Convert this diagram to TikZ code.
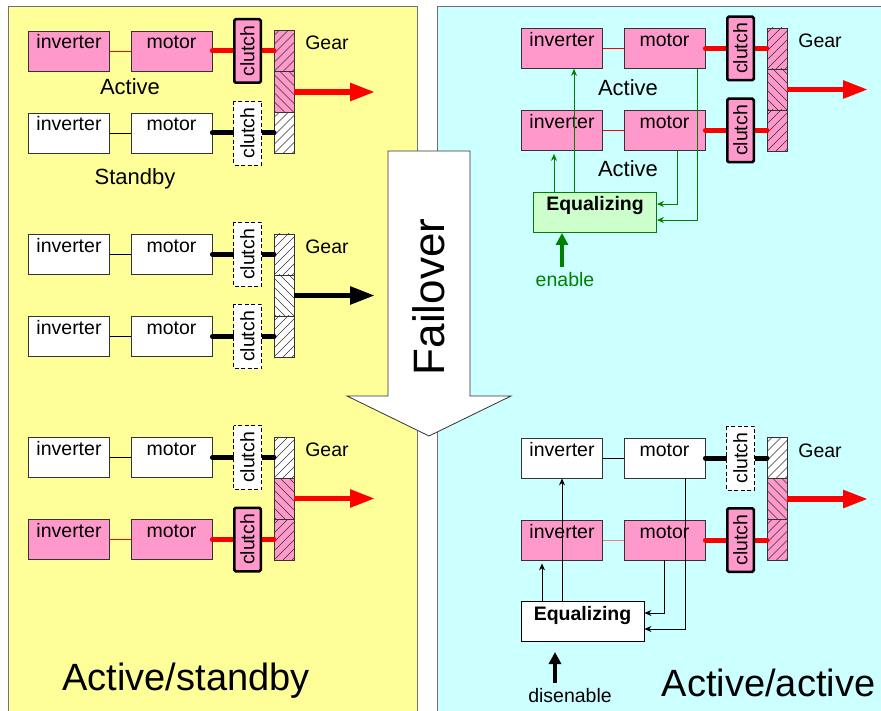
\documentclass[tikz,border=0pt]{standalone}
\usepackage{fontspec}
\setmainfont{Liberation Sans}
\usetikzlibrary{arrows.meta}
\definecolor{yel}{HTML}{FFFF99}
\definecolor{cya}{HTML}{CCFFFF}
\definecolor{pinkc}{HTML}{FF99CC}
\definecolor{lgreen}{HTML}{CCFFCC}
\definecolor{dgreen}{HTML}{008000}
\definecolor{bordc}{HTML}{333333}
\definecolor{panelc}{HTML}{707070}
\definecolor{salm}{HTML}{F08080}
\newcommand{\boxfont}{\fontsize{19.5}{22}\selectfont}
\newcommand{\lblfont}{\fontsize{22}{26}\selectfont}
\newcommand{\bigfont}{\fontsize{38}{44}\selectfont}
\tikzset{
 box/.style={draw=bordc, line width=0.8pt, minimum width=81pt, minimum height=40pt, inner sep=2pt, text height=14pt, text depth=18pt, font=\boxfont},
 fillon/.style={fill=pinkc}, filloff/.style={fill=white},
 gearseg/.style={draw=bordc, line width=0.8pt, minimum width=20pt, minimum height=41pt, inner sep=0pt, outer sep=0pt},
 gearon/.style={fill=pinkc}, gearoff/.style={fill=white},
 hatchNE/.style={path picture={\foreach \k in {-45,-36,...,20} \draw[line width=0.6pt] ([xshift=\k pt]path picture bounding box.south west) -- ++(45:65pt);}},
 hatchNW/.style={path picture={\foreach \k in {-45,-36,...,20} \draw[line width=0.6pt] ([xshift=-\k pt]path picture bounding box.south east) -- ++(135:65pt);}},
 clutchon/.style={draw=black, line width=2.5pt, rounded corners=1.5pt, fill=pinkc, rotate=90, minimum width=63.5pt, minimum height=26.5pt, inner sep=0pt, font=\boxfont},
 clutchoff/.style={draw=black, line width=0.9pt, dash pattern=on 4pt off 2.5pt, fill=white, rotate=90, minimum width=64pt, minimum height=28pt, inner sep=0pt, font=\boxfont},
 linkon/.style={draw=red, line width=0.8pt},
 linkoff/.style={draw=black, line width=0.8pt},
 shafton/.style={draw=red, line width=5pt, line cap=round},
 shaftoff/.style={draw=black, line width=5pt, line cap=round},
 outarrowon/.style={draw=red, line width=5.5pt, -{Triangle[length=25pt,width=17pt]}},
 outarrowoff/.style={draw=black, line width=5.5pt, -{Triangle[length=25pt,width=17pt]}},
 lbl/.style={font=\lblfont, inner sep=0pt, anchor=base},
 gearlbl/.style={font=\boxfont, inner sep=0pt, anchor=base},
 eqbox/.style={line width=0.9pt, minimum width=123pt, minimum height=40pt, inner sep=2pt, text height=14pt, text depth=17pt, font=\boxfont\bfseries},
 garrow/.style={draw=dgreen, line width=0.9pt, -{Stealth[length=7pt,width=6pt]}},
 barrow/.style={draw=black, line width=0.9pt, -{Stealth[length=7pt,width=6pt]}},
 gthick/.style={draw=dgreen, line width=4pt, -{Triangle[length=12pt,width=12pt]}},
 bthick/.style={draw=black, line width=4pt, -{Triangle[length=12pt,width=12pt]}},
}
% #1 prefix, #2 x offset, #3 row-1 y, #4 state row 1, #5 state row 2, #6 state middle gear
\newcommand{\driveblock}[6]{
 \node[box, fill#4] (#1i1) at ({#2+69},{#3}) {inverter};
 \node[box, fill#4] (#1m1) at ({#2+171.5},{#3}) {motor};
 \node[box, fill#5] (#1i2) at ({#2+69},{#3+82}) {inverter};
 \node[box, fill#5] (#1m2) at ({#2+171.5},{#3+82}) {motor};
 \node[gearseg, gear#4, hatchNE] (#1g1) at ({#2+284},{#3}) {};
 \node[gearseg, gear#6, hatchNW] (#1g2) at ({#2+284},{#3+41}) {};
 \node[gearseg, gear#5, hatchNE] (#1g3) at ({#2+284},{#3+82}) {};
 \draw[link#4] (#1i1) -- (#1m1);
 \draw[link#5] (#1i2) -- (#1m2);
 \draw[shaft#4] (#1m1.east) -- (#1g1.west);
 \draw[shaft#5] (#1m2.east) -- (#1g3.west);
 \node[clutch#4] (#1c1) at ({#2+247.5},{#3}) {clutch};
 \node[clutch#5] (#1c2) at ({#2+247.5},{#3+82}) {clutch};
 \node[gearlbl] (#1gl) at ({#2+327},{#3-1}) {Gear};
 \coordinate (#1out) at ({#2+375},{#3+41});
 \draw[outarrow#6] (#1g2.east) -- (#1out);
}
\begin{document}
\begin{tikzpicture}[x=1pt,y=-1pt]
\useasboundingbox (0,0) rectangle (881,711);
\fill[white] (0,0) rectangle (881,711);
% panels
\filldraw[fill=yel, draw=panelc, line width=1pt] (8,7) rectangle (417,720);
\filldraw[fill=cya, draw=panelc, line width=1pt] (437,7) rectangle (890,720);
% failover arrow
\filldraw[fill=white, draw=bordc, line width=0.8pt] (388,151) -- (470,151) -- (470,396) -- (511,396) -- (429,436) -- (347,396) -- (388,396) -- cycle;
\node[rotate=90, font=\fontsize{44}{50}\selectfont, inner sep=0pt] (failover) at (429,297) {Failover};
% left panel
\driveblock{la}{0}{51}{on}{off}{on}
\driveblock{lb}{0}{254.5}{off}{off}{off}
\driveblock{lc}{0}{457.5}{off}{on}{on}
\node[lbl] (actL) at (130,95) {Active};
\node[lbl] (stbL) at (135,185) {Standby};
\node[font=\bigfont, inner sep=0pt, anchor=base] (titleL) at (186,690) {Active/standby};
% right panel
\driveblock{ra}{493}{48.5}{on}{on}{on}
\begin{scope}[linkon/.style={draw=salm, line width=0.8pt}]
\driveblock{rb}{493}{458}{off}{on}{on}
\end{scope}
\node[lbl] (actR1) at (628,96) {Active};
\node[lbl] (actR2) at (628,177) {Active};
\node[font=\bigfont, inner sep=0pt, anchor=base] (titleR) at (768.5,696) {Active/active};
% equalizing (enabled)
\node[eqbox, draw=dgreen, fill=lgreen] (eqA) at (595,212.5) {Equalizing};
\draw[garrow, shorten >=3pt] ([xshift=-41pt]eqA.north) -- ([xshift=-41pt]eqA.north |- rai2.south);
\draw[garrow] ([xshift=-21pt]eqA.north) -- ([xshift=-21pt]eqA.north |- rai1.south);
\draw[garrow] ([xshift=13pt]ram2.south) |- ([yshift=8.5pt]eqA.east);
\draw[garrow] ([xshift=33pt]ram1.south) |- ([yshift=-7.5pt]eqA.east);
\coordinate (enA) at (562,267);
\draw[gthick] (enA) -- (enA |- eqA.south);
\node[font=\boxfont, text=dgreen, inner sep=0pt, anchor=base] (enlbl) at (565,287) {enable};
% equalizing (disabled)
\node[eqbox, draw=black, fill=white] (eqB) at (582.5,621.5) {Equalizing};
\draw[barrow, shorten >=3pt] ([xshift=-40.5pt]eqB.north) -- ([xshift=-40.5pt]eqB.north |- rbi2.south);
\draw[barrow] ([xshift=-20.5pt]eqB.north) -- ([xshift=-20.5pt]eqB.north |- rbi1.south);
\draw[barrow] (rbm2.south) |- ([yshift=8.5pt]eqB.east);
\draw[barrow] ([xshift=21pt]rbm1.south) |- ([yshift=-7.5pt]eqB.east);
\coordinate (enB) at (555,683);
\coordinate (enBtip) at (555,652);
\draw[bthick] (enB) -- (enBtip);
\node[font=\boxfont, inner sep=0pt, anchor=base] (dislbl) at (570,702) {disenable};
\end{tikzpicture}
\end{document}
